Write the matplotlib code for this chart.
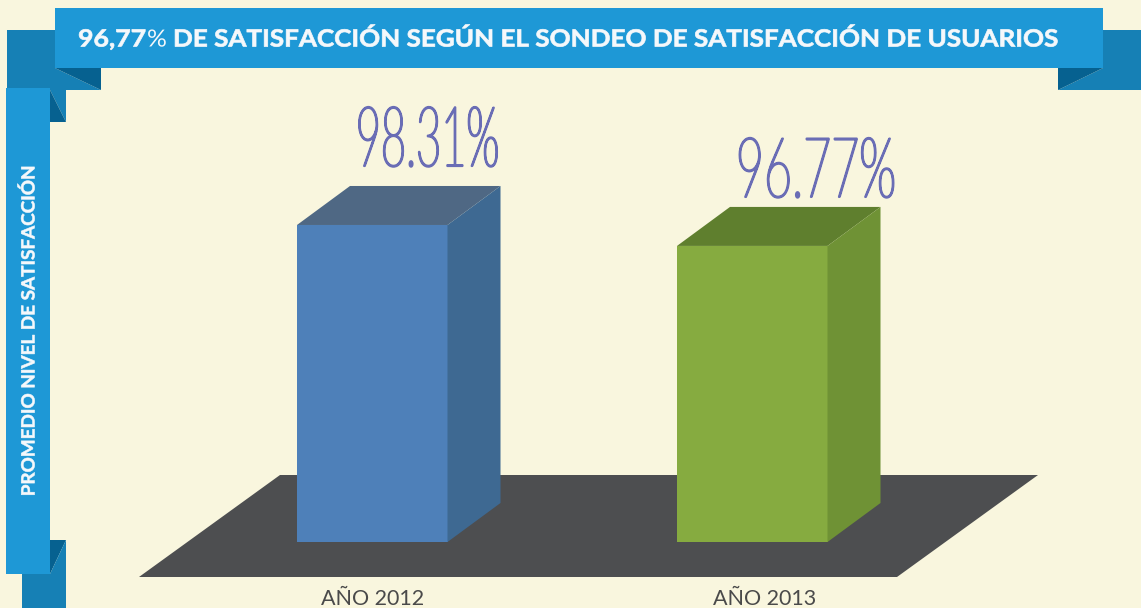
import matplotlib
matplotlib.use("Agg")
from matplotlib import pyplot as plt
from matplotlib.patches import Polygon
from matplotlib.patheffects import AbstractPathEffect
from matplotlib.transforms import Affine2D

years = ["AÑO 2012", "AÑO 2013"]
satisfaction = [98.31, 96.77]
title_value = "96,77"
title_rest = "DE SATISFACCIÓN SEGÚN EL SONDEO DE SATISFACCIÓN DE USUARIOS"
side_label = "PROMEDIO NIVEL DE SATISFACCIÓN"

BG = "#f9f6de"
BLUE = "#1e98d6"
BLUE_MID = "#1680b5"
BLUE_DARK = "#066190"
INK = "#6a6db5"
WHITE = "#f5f8fb"

# bar styling: front, top, side
bar_left = [297, 677]
bar_width = 150.5
bar_colors = [("#4e80b9", "#4f6884", "#3e6992"), ("#86ab40", "#5f7f2e", "#6f9235")]
depth_x, depth_y = 53, 39
px_per_unit = 13.6
base_value = 75
base_px = 542

# label placement per bar
year_x = [373, 765]
value_x = [427.5, 816]
value_gap = [20, 10]
value_squeeze = [0.52, 0.58]


class Stretch(AbstractPathEffect):
    """Scale glyph outlines around an anchor (display coords), with optional outline."""

    def __init__(self, x0, y0, sx=1, sy=1, lw=0):
        super().__init__()
        self.x0, self.y0, self.sx, self.sy, self.lw = x0, y0, sx, sy, lw

    def draw_path(self, renderer, gc, tpath, affine, rgbFace=None):
        t = affine + Affine2D().translate(-self.x0, -self.y0).scale(self.sx, self.sy).translate(self.x0, self.y0)
        gc0 = renderer.new_gc()
        gc0.copy_properties(gc)
        if self.lw:
            gc0.set_linewidth(self.lw)
            gc0.set_foreground(rgbFace)
        renderer.draw_path(gc0, tpath, t, rgbFace)
        gc0.restore()


fig = plt.figure(figsize=(11.41, 6.08), dpi=100, facecolor=BG)

# pixel axes for ribbons and floor
ax = fig.add_axes([0, 0, 1, 1])
ax.set_xlim(0, 1141)
ax.set_ylim(608, 0)
ax.axis("off")


def poly(pts, color, z=1):
    ax.add_patch(Polygon(pts, closed=True, facecolor=color, edgecolor="none", zorder=z))


def title_piece(x, s, sx, weight="bold", lw=0.5):
    txt = ax.text(x, 46.5, s, color=WHITE, fontsize=17, fontweight=weight, family="Lato",
                  va="baseline", ha="left", zorder=3)
    txt.set_path_effects([Stretch(x, 0, sx=sx, lw=lw)])


poly([(7, 30), (55, 30), (55, 68), (101, 90), (7, 90)], BLUE_MID)
poly([(55, 68), (101, 68), (101, 90)], BLUE_DARK)
poly([(1103, 30), (1141, 30), (1141, 90), (1058, 90), (1103, 68)], BLUE_MID)
poly([(1058, 68), (1103, 68), (1058, 90)], BLUE_DARK)
poly([(55, 8), (1103, 8), (1103, 68), (55, 68)], BLUE, 2)

poly([(50, 90), (66, 90), (66, 122)], BLUE_MID)
poly([(50, 90), (66, 122), (50, 122)], BLUE_DARK)
poly([(50, 540), (66, 540), (50, 574)], BLUE_DARK)
poly([(66, 540), (66, 608), (22, 608), (22, 574), (50, 574)], BLUE_MID)
poly([(6, 88), (50, 88), (50, 574), (6, 574)], BLUE, 2)

poly([(139, 577), (280, 475), (1038, 475), (897, 577)], "#4d4e50")

title_piece(78, title_value, 1.13)
title_piece(147, "%", 1.05, weight="normal", lw=0)
title_piece(173, title_rest, 1.103)

side = ax.text(28.5, 330, side_label, color=WHITE, fontsize=13.2, fontweight="bold", family="Lato",
               rotation=90, ha="center", va="center", zorder=3)
side.set_path_effects([Stretch(28.5, 608 - 330, sy=1.03, lw=0.4)])

# bars on a value axis, same pixel frame as the ribbons
ax_bar = fig.add_axes([0, 0, 1, 1], facecolor="none")
ax_bar.set_xlim(0, 1141)
ax_bar.set_ylim(base_value - (608 - base_px) / px_per_unit, base_value + base_px / px_per_unit)
ax_bar.axis("off")

depth_v = depth_y / px_per_unit
for i, (x0, val, year, cols) in enumerate(zip(bar_left, satisfaction, years, bar_colors)):
    front, top, side_col = cols
    ax_bar.bar(x0, val - base_value, bottom=base_value, width=bar_width, align="edge",
               color=front, zorder=3)
    x1 = x0 + bar_width
    ax_bar.add_patch(Polygon([(x0, val), (x1, val), (x1 + depth_x, val + depth_v),
                              (x0 + depth_x, val + depth_v)], facecolor=top, edgecolor="none", zorder=3))
    ax_bar.add_patch(Polygon([(x1, base_value), (x1 + depth_x, base_value + depth_v),
                              (x1 + depth_x, val + depth_v), (x1, val)],
                             facecolor=side_col, edgecolor="none", zorder=3))

    ax_bar.text(year_x[i], base_value - 57 / px_per_unit, year, color="#4a4a4a",
                fontsize=15.5, family="Lato", ha="center", va="center", zorder=4)

    y_base = val + depth_v + value_gap[i] / px_per_unit
    lab = ax_bar.text(value_x[i], y_base, f"{val:.2f}%", color=INK, fontsize=60, family="Lato",
                      fontweight="light", ha="center", va="baseline", zorder=4)
    lab.set_path_effects([Stretch(value_x[i], 0, sx=value_squeeze[i], lw=1.6)])

fig.savefig("out.png", dpi=100, facecolor=BG)
